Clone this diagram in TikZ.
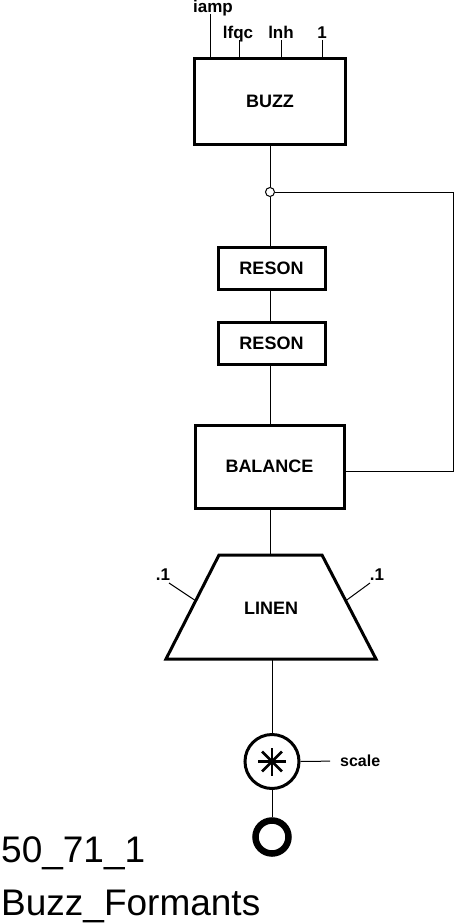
\documentclass[tikz,border=0pt]{standalone}
\usepackage{fontspec}
\setmainfont{Liberation Sans}
\usetikzlibrary{calc}

\begin{document}
\begin{tikzpicture}[x=1pt,y=-1pt,
            block/.style={draw,line width=3pt,inner sep=0pt,font=\bfseries\fontsize{18}{18}\selectfont},
            pinlabel/.style={inner sep=0pt,anchor=base,font=\bfseries\fontsize{17}{17}\selectfont},
            wire/.style={line width=1pt}
            ]
            \useasboundingbox (0,0) rectangle (471,923);
            \node[block,minimum width=151pt,minimum height=85pt] (buzz) at (270,101.5) {BUZZ};
            \node[pinlabel] (iamp) at (213,13) {iamp};
            \node[pinlabel] (lfqc) at (238,39) {lfqc};
            \node[pinlabel] (lnh) at (281,39) {lnh};
            \node[pinlabel] (one) at (322,39) {1};
            \coordinate (pA) at (210,14);
            \coordinate (pB) at (239,40);
            \coordinate (pC) at (281,40);
            \coordinate (pD) at (322,40);
            \foreach \p in {pA,pB,pC,pD}
                \draw[wire] (\p) -- (\p |- buzz.north);
            \node[circle,draw,wire,minimum size=9pt,inner sep=0pt] (jn) at (270,192) {};
            \node[block,minimum width=107pt,minimum height=42pt] (res1) at (271.5,268) {RESON};
            \node[block,minimum width=107pt,minimum height=42pt] (res2) at (271.5,343) {RESON};
            \node[block,minimum width=149pt,minimum height=83pt] (bal) at (269.5,466.5) {BALANCE};
            \draw[wire] (buzz.south -| jn) -- (jn);
            \draw[wire] (jn) -- (jn |- res1.north);
            \draw[wire] (res1.south -| jn) -- (jn |- res2.north);
            \draw[wire] (res2.south -| jn) -- (jn |- bal.north);
            \coordinate (fb) at (453,471);
            \draw[wire] (jn.east) -| (fb) -- (fb -| bal.east);
            % linen
            \coordinate (ltl) at (219,555);
            \coordinate (ltr) at (322,555);
            \coordinate (lbr) at (376,659);
            \coordinate (lbl) at (166,659);
            \draw[line width=3pt] (ltl) -- (ltr) -- (lbr) -- (lbl) -- cycle;
            \node[font=\bfseries\fontsize{18}{18}\selectfont,inner sep=0pt] (linen) at (271,608) {LINEN};
            \coordinate (ltop) at (270,555);
            \coordinate (lbot) at (272,659);
            \draw[wire] (bal.south -| ltop) -- (ltop);
            \node[pinlabel] (lv) at (163,580) {.1};
            \node[pinlabel] (rv) at (377,580) {.1};
            \coordinate (la) at (169,583);
            \coordinate (ra) at (370,583);
            \draw[wire] (la) -- ($(ltl)!0.44!(lbl)$);
            \draw[wire] (ra) -- ($(ltr)!0.44!(lbr)$);
            % output chain
            \node[circle,draw,line width=3pt,minimum size=54pt,inner sep=0pt] (mult) at (272,761.5) {};
            \foreach \a in {0,45,...,135}
                \draw[line width=2.5pt] ($(mult.center)+(\a:14)$) -- ($(mult.center)-(\a:14)$);
            \draw[wire] (lbot) -- (mult.north);
            \node[anchor=west,inner sep=0pt,font=\bfseries\fontsize{16}{16}\selectfont] (scale) at (340,761) {scale};
            \draw[wire,shorten >=10pt] (mult.east) -- (scale.west);
            \node[circle,draw,line width=6.5pt,minimum size=33pt,inner sep=0pt] (out) at (272,837) {};
            \draw[wire] (mult.south) -- (out.north);
            \node[anchor=base west,inner sep=0pt,font=\fontsize{37}{37}\selectfont] (num) at (1,862) {50\_71\_1};
            \node[anchor=base west,inner sep=0pt,font=\fontsize{37}{37}\selectfont] (title) at (1,915) {Buzz\_Formants};
        \end{tikzpicture}
\end{document}
